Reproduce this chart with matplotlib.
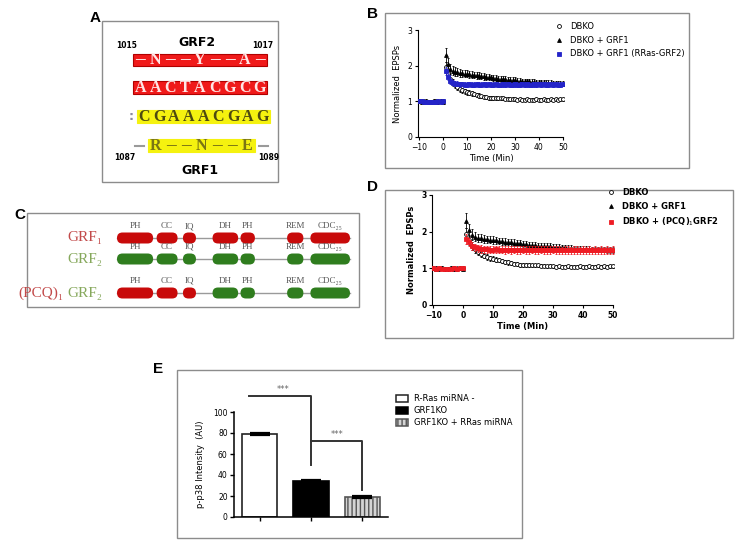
import matplotlib
matplotlib.use("Agg")
import matplotlib.pyplot as plt
from matplotlib.patches import Rectangle, FancyBboxPatch, Patch

W, H = 739, 548

# ---- data ----
# panel A sequences
seq_rows = ["-N--Y--A-", "AACTACGCG", "CGAAACGAG", "R--N--E"]

# panel C domains (diagram units 0-100)
dom_names = ["PH", "CC", "IQ", "DH", "PH", "REM", "CDC\u2082\u2085"]
dom_start = [0, 17, 28.3, 41, 53, 73, 83]
dom_end = [15.5, 26, 33.9, 52, 59.2, 80, 100]

# LTP time course (min)
base_time = [-10, -9, -8, -7, -6, -5, -4, -3, -2, -1, 0]
post_time = list(range(1, 51))

dbko_base = [1.00, 1.01, 0.99, 1.00, 0.98, 0.99, 1.00, 1.01, 0.99, 1.00, 1.00]
dbko_post = [1.95, 1.78, 1.62, 1.52, 1.45, 1.40, 1.35, 1.31, 1.28, 1.26,
             1.24, 1.22, 1.20, 1.18, 1.16, 1.14, 1.13, 1.11, 1.10, 1.10,
             1.09, 1.09, 1.08, 1.08, 1.08, 1.07, 1.07, 1.06, 1.07, 1.06,
             1.05, 1.06, 1.05, 1.05, 1.06, 1.05, 1.04, 1.05, 1.06, 1.05,
             1.05, 1.06, 1.05, 1.05, 1.06, 1.05, 1.06, 1.05, 1.06, 1.06]
dbko_err_post = [0.15, 0.13, 0.11, 0.10, 0.09, 0.08, 0.08, 0.07, 0.07, 0.07,
                 0.07, 0.06, 0.06, 0.06, 0.06, 0.05, 0.05, 0.05, 0.05, 0.05,
                 0.05, 0.05, 0.04, 0.04, 0.04, 0.04, 0.04, 0.04, 0.04, 0.04,
                 0.04, 0.04, 0.04, 0.04, 0.04, 0.04, 0.04, 0.04, 0.04, 0.04,
                 0.04, 0.04, 0.04, 0.04, 0.04, 0.04, 0.04, 0.04, 0.04, 0.04]

grf1_base = [1.00, 0.99, 1.00, 1.01, 0.99, 0.98, 1.00, 0.99, 1.01, 1.00, 0.99]
grf1_post = [2.30, 2.05, 1.92, 1.86, 1.83, 1.82, 1.80, 1.79, 1.78, 1.77,
             1.76, 1.75, 1.74, 1.73, 1.72, 1.71, 1.70, 1.69, 1.68, 1.67,
             1.66, 1.65, 1.64, 1.63, 1.62, 1.62, 1.61, 1.60, 1.60, 1.59,
             1.58, 1.58, 1.57, 1.57, 1.56, 1.56, 1.55, 1.55, 1.54, 1.54,
             1.53, 1.53, 1.52, 1.52, 1.52, 1.51, 1.51, 1.50, 1.50, 1.50]
grf1_err_post = [0.20, 0.16, 0.14, 0.12, 0.12, 0.11, 0.11, 0.10, 0.10, 0.10,
                 0.10, 0.09, 0.09, 0.09, 0.09, 0.09, 0.09, 0.08, 0.08, 0.08,
                 0.08, 0.08, 0.08, 0.08, 0.08, 0.08, 0.08, 0.08, 0.08, 0.08,
                 0.08, 0.08, 0.07, 0.07, 0.07, 0.07, 0.07, 0.07, 0.07, 0.07,
                 0.07, 0.07, 0.07, 0.07, 0.07, 0.07, 0.07, 0.07, 0.07, 0.07]

rras_base = [1.00, 1.00, 0.99, 0.98, 0.99, 0.97, 0.98, 0.99, 1.00, 0.99, 1.00]
rras_post = [1.85, 1.68, 1.58, 1.52, 1.50, 1.49, 1.48, 1.48, 1.47, 1.47,
             1.48, 1.47, 1.47, 1.48, 1.47, 1.47, 1.48, 1.47, 1.48, 1.47,
             1.47, 1.48, 1.47, 1.47, 1.48, 1.47, 1.48, 1.47, 1.47, 1.48,
             1.47, 1.47, 1.48, 1.47, 1.48, 1.47, 1.47, 1.48, 1.47, 1.48,
             1.47, 1.48, 1.47, 1.47, 1.48, 1.47, 1.48, 1.47, 1.47, 1.48]
rras_err_post = [0.12, 0.09, 0.08, 0.07, 0.07, 0.07, 0.07, 0.06, 0.06, 0.06,
                 0.06, 0.06, 0.06, 0.06, 0.06, 0.06, 0.06, 0.06, 0.06, 0.06,
                 0.06, 0.06, 0.06, 0.06, 0.06, 0.06, 0.06, 0.06, 0.06, 0.06,
                 0.06, 0.06, 0.06, 0.06, 0.06, 0.06, 0.06, 0.06, 0.06, 0.06,
                 0.06, 0.06, 0.06, 0.06, 0.06, 0.06, 0.06, 0.06, 0.06, 0.06]

pcq_base = [1.00, 0.99, 1.00, 0.98, 0.99, 0.98, 0.99, 1.00, 0.99, 1.00, 1.01]
pcq_post = [1.80, 1.72, 1.62, 1.57, 1.55, 1.53, 1.52, 1.52, 1.51, 1.51,
            1.52, 1.51, 1.51, 1.50, 1.51, 1.50, 1.51, 1.50, 1.50, 1.51,
            1.50, 1.50, 1.51, 1.50, 1.50, 1.51, 1.50, 1.50, 1.50, 1.51,
            1.50, 1.50, 1.49, 1.50, 1.50, 1.49, 1.50, 1.50, 1.49, 1.50,
            1.49, 1.50, 1.49, 1.50, 1.49, 1.50, 1.49, 1.50, 1.49, 1.50]
pcq_err_post = [0.14, 0.12, 0.11, 0.10, 0.10, 0.10, 0.10, 0.10, 0.10, 0.10,
                0.10, 0.10, 0.10, 0.10, 0.10, 0.10, 0.10, 0.10, 0.10, 0.10,
                0.10, 0.10, 0.10, 0.10, 0.10, 0.10, 0.10, 0.10, 0.10, 0.10,
                0.10, 0.10, 0.10, 0.10, 0.10, 0.10, 0.10, 0.10, 0.10, 0.10,
                0.10, 0.10, 0.10, 0.10, 0.10, 0.10, 0.10, 0.10, 0.10, 0.10]
base_err = [0.03, 0.02, 0.03, 0.02, 0.03, 0.02, 0.03, 0.02, 0.03, 0.02, 0.03]

# panel E
e_labels = ["R-Ras miRNA -", "GRF1KO", "GRF1KO + RRas miRNA"]
e_values = [79, 34, 19]
e_errors = [1.2, 1.2, 1.0]

# ---- figure ----
fig = plt.figure(figsize=(W / 100, H / 100), dpi=100)
bg = fig.add_axes([0, 0, 1, 1])
bg.set_xlim(0, W)
bg.set_ylim(H, 0)
bg.axis("off")


def px_axes(x0, y0, x1, y1):
    return fig.add_axes([x0 / W, 1 - y1 / H, (x1 - x0) / W, (y1 - y0) / H])


# panel frames and letters
for x0, y0, x1, y1 in [(102, 21, 278, 182), (385, 13, 689, 168), (27, 213, 359, 307),
                       (385, 190, 733, 338), (177, 370, 522, 538)]:
    bg.add_patch(Rectangle((x0, y0), x1 - x0, y1 - y0, fill=False, ec="#8c8c8c", lw=1))
for letter, x, y in [("A", 95, 18), ("B", 372, 14), ("C", 20, 215), ("D", 373, 187), ("E", 158, 369)]:
    bg.text(x, y, letter, fontsize=11, fontweight="bold", ha="center", va="center",
            family="Liberation Sans")

# ---- panel A ----
bg.text(197, 42, "GRF2", fontsize=9, fontweight="bold", ha="center", va="center")
bg.text(200, 171, "GRF1", fontsize=9, fontweight="bold", ha="center", va="center")
for s, x, y in [("1015", 127, 45), ("1017", 263, 45), ("1087", 125, 157), ("1089", 269, 157)]:
    bg.text(x, y, s, fontsize=5.5, fontweight="bold", ha="center", va="center")

row_boxes = [(133, 54, 267, 66), (133, 81, 267, 94), (137, 110, 270, 123), (148, 139, 255, 152)]
row_fill = ["#f01a1a", "#f01a1a", "#f5f20f", "#f5f20f"]
row_edge = ["#b00000", "#b00000", "#f5f20f", "#f5f20f"]
row_text = ["#ffe6e6", "#ffe6e6", "#4d4a10", "#7a7514"]
for seq, (x0, y0, x1, y1), fc, ec, tc in zip(seq_rows, row_boxes, row_fill, row_edge, row_text):
    bg.add_patch(Rectangle((x0, y0), x1 - x0, y1 - y0, fc=fc, ec=ec, lw=0.8))
    cell = (x1 - x0) / len(seq)
    for i, ch in enumerate(seq):
        if ch == "-":
            bg.text(x0 + cell * (i + 0.5), (y0 + y1) / 2, "\u2013", fontsize=14, color=tc,
                    ha="center", va="center", family="Liberation Serif", fontweight="bold")
        else:
            bg.text(x0 + cell * (i + 0.5), (y0 + y1) / 2 + 0.5, ch, fontsize=11.5, color=tc,
                    ha="center", va="center", family="Liberation Serif", fontweight="bold")
bg.text(131, 116, ":", fontsize=9, color="#8a8aa0", ha="center", va="center", fontweight="bold")
bg.plot([135, 144], [146, 146], color="#9a9a9a", lw=1.5)
bg.plot([259, 268], [146, 146], color="#9a9a9a", lw=1.5)

# ---- panel C ----
red_dom, green_dom = "#c80a0a", "#2f7d1e"
row_y = [238, 259, 293]
row_colors = [[red_dom] * 7, [green_dom] * 7, [red_dom] * 3 + [green_dom] * 4]
serif = ["Liberation Serif", "DejaVu Serif"]


def ux(u):
    return 117 + u * 2.33


for y, cols in zip(row_y, row_colors):
    bg.plot([ux(0), ux(100)], [y, y], color="#9a9a9a", lw=1, zorder=1)
    for name, s, e, c in zip(dom_names, dom_start, dom_end, cols):
        bg.add_patch(FancyBboxPatch((ux(s), y - 5.5), ux(e) - ux(s), 11,
                                    boxstyle="round,pad=0,rounding_size=5.5",
                                    fc=c, ec="none", zorder=2))
        bg.text((ux(s) + ux(e)) / 2, y - 12, name, fontsize=6.5, color="#555555",
                ha="center", va="center", family=serif)

bg.text(102, 238, "GRF\u2081", fontsize=11, color="#c24a4a", ha="right", va="center", family=serif)
bg.text(102, 259, "GRF\u2082", fontsize=11, color="#86a85c", ha="right", va="center", family=serif)
bg.text(102, 293, "GRF\u2082", fontsize=11, color="#86a85c", ha="right", va="center", family=serif)
bg.text(64, 293, "(PCQ)\u2081", fontsize=11, color="#c24a4a", ha="right", va="center", family=serif)


# ---- panels B and D ----
def ltp_panel(ax, third_base, third_post, third_err, third_color, third_label, bold, leg_xy):
    time = base_time + post_time
    w = "bold" if bold else "normal"
    kw = dict(ms=2.8, mew=0.6, elinewidth=0.6, capsize=1, capthick=0.6, ecolor="black")
    l1 = ax.errorbar(time, dbko_base + dbko_post, yerr=base_err + dbko_err_post, fmt="o",
                     mfc="white", mec="black", zorder=2, **kw)
    l2 = ax.errorbar(time, grf1_base + grf1_post, yerr=base_err + grf1_err_post, fmt="^",
                     color="black", zorder=3, **kw)
    kw["ecolor"] = third_color
    l3 = ax.errorbar(time, third_base + third_post, yerr=base_err + third_err, fmt="s",
                     color=third_color, zorder=4, **kw)
    ax.set_xlim(-10.5, 50.5)
    ax.set_ylim(0, 3)
    ax.set_xticks(range(-10, 51, 10))
    ax.set_yticks([0, 1, 2, 3])
    for side in ["top", "right"]:
        ax.spines[side].set_visible(False)
    for side in ["left", "bottom"]:
        ax.spines[side].set_linewidth(0.8)
    ax.spines["left"].set_bounds(0, 3)
    ax.spines["bottom"].set_bounds(-10, 50)
    ax.tick_params(labelsize=5.5, length=2.5, width=0.8, pad=1.5)
    for lab in ax.get_xticklabels() + ax.get_yticklabels():
        lab.set_fontweight(w)
    ax.set_xlabel("Time (Min)", fontsize=6, fontweight=w, labelpad=2)
    ax.set_ylabel("Normalized  EPSPs", fontsize=6, fontweight=w, labelpad=4)
    ax.legend([l1[0], l2[0], l3[0]], ["DBKO", "DBKO + GRF1", third_label],
              loc="upper left", bbox_to_anchor=(leg_xy[0] / W, 1 - leg_xy[1] / H),
              bbox_transform=fig.transFigure, frameon=False,
              handlelength=0.8, handletextpad=1.0, labelspacing=0.55, borderaxespad=0,
              prop={"weight": w, "size": 6})


axB = px_axes(418, 30, 564, 137)
ltp_panel(axB, rras_base, rras_post, rras_err_post, "#2424c8", "DBKO + GRF1 (RRas-GRF2)",
          False, (552, 19))
axD = px_axes(432, 195, 614, 305)
ltp_panel(axD, pcq_base, pcq_post, pcq_err_post, "#ee1c24",
          "DBKO + (PCQ)$_1$GRF2", True, (604, 185))

# ---- panel E ----
axE = px_axes(234, 412, 388, 517)
xs = [0, 1, 2]
bars = axE.bar(xs, e_values, width=0.69, color=["white", "black", "#d4d4d4"],
               edgecolor=["#222222", "black", "#555555"], linewidth=1.2,
               yerr=e_errors, capsize=7, error_kw=dict(elinewidth=1.2, capthick=1.6))
bars[2].set_hatch("||||")
axE.set_xlim(-0.5, 2.5)
axE.set_ylim(0, 100)
axE.set_yticks(range(0, 101, 20))
axE.set_xticks(xs)
axE.set_xticklabels([])
for side in ["top", "right"]:
    axE.spines[side].set_visible(False)
for side in ["left", "bottom"]:
    axE.spines[side].set_linewidth(1.1)
axE.tick_params(labelsize=5.5, length=3, width=1, pad=1.5)
axE.set_ylabel("p-p38 Intensity  (AU)", fontsize=6, labelpad=6)

axE.plot([-0.2, 1.0, 1.0], [115, 115, 50], color="#333333", lw=1.4, clip_on=False)
axE.plot([1.0, 2.0, 2.0], [72, 72, 26], color="#333333", lw=1.4, clip_on=False)
axE.text(0.45, 117, "***", fontsize=6, ha="center", va="bottom", color="#666666")
axE.text(1.5, 74, "***", fontsize=6, ha="center", va="bottom", color="#666666")

handles = [Patch(fc="white", ec="#222222", lw=1.1), Patch(fc="black", ec="black", lw=1.1),
           Patch(fc="#d4d4d4", ec="#555555", lw=1.1, hatch="||||")]
axE.legend(handles, e_labels, loc="upper left", bbox_to_anchor=(393 / W, 1 - 391 / H),
           bbox_transform=fig.transFigure, frameon=False, fontsize=6,
           handlelength=1.4, handleheight=0.9, handletextpad=0.7, labelspacing=0.35,
           borderaxespad=0)

fig.savefig("out.png", dpi=100)
